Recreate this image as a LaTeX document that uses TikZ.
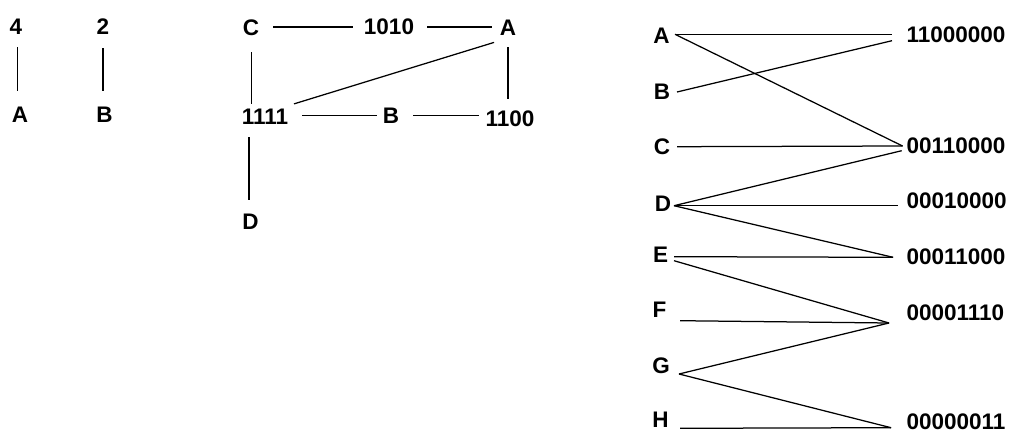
\documentclass[tikz,border=0pt]{standalone}
\usepackage{fontspec}
\setmainfont{Liberation Sans}
\begin{document}
\begin{tikzpicture}[x=1pt,y=-1pt,
  lbl/.style={inner sep=0pt,outer sep=0pt,font=\fontsize{22.5}{27}\selectfont\bfseries},
  rlbl/.style={lbl,anchor=west},
  conn/.style={draw=black,line width=1.25pt}]
\useasboundingbox (0,0) rectangle (1011,433);
% ---- left pair graphs
\node[lbl] (n4) at (16,26.5) {4};
\node[lbl] (nA) at (20,114.5) {A};
\node[lbl] (n2) at (103,26.5) {2};
\node[lbl] (nB) at (104.5,114.5) {B};
\draw[conn,shorten <=13pt,shorten >=16pt] ([xshift=1.5pt]n4.south) -- ([xshift=1.5pt]n4.south |- nA.north);
\draw[conn,shorten <=14pt,shorten >=16pt] (n2.south) -- (n2.south |- nB.north);
% ---- middle graph
\node[lbl] (gC) at (251,28) {C};
\node[lbl] (g1010) at (389,27) {1010};
\node[lbl] (gA) at (508,27.5) {A};
\node[lbl] (g1111) at (265,116.5) {1111};
\node[lbl] (gB) at (391,115.5) {B};
\node[lbl] (g1100) at (510,118.5) {1100};
\node[lbl] (gD) at (250.5,221.5) {D};
\draw[conn,shorten <=14pt,shorten >=11pt] (gC.east |- 0,27) -- (g1010.west);
\draw[conn,shorten <=13pt,shorten >=8pt] (g1010.east) -- (g1010.east -| gA.west);
\draw[conn,shorten <=16.5pt,shorten >=4.5pt] ([xshift=0.7pt]gC.south) -- ([xshift=0.7pt]gC.south |- g1111.north);
\draw[conn,shorten <=13pt,shorten >=14pt] ([xshift=-1.5pt]gD.north |- g1111.south) -- ([xshift=-1.5pt]gD.north);
\draw[conn,shorten <=3pt,shorten >=4pt] ([shift={(3,-4)}]g1111.north east) -- ([shift={(-2,6)}]gA.south west);
\draw[conn,shorten <=14pt,shorten >=6pt] (g1111.east |- gB.east) -- (gB.west);
\draw[conn,shorten <=14pt,shorten >=7pt] (gB.east) -- (gB.east -| g1100.west);
\draw[conn,shorten <=12pt,shorten >=11.5pt] (gA.south) -- (gA.south |- g1100.north);
% ---- right bipartite graph
\node[lbl] (rA) at (661.5,36) {A};
\node[lbl] (rB) at (662,91.5) {B};
\node[lbl] (rC) at (662,147) {C};
\node[lbl] (rD) at (663,203.5) {D};
\node[lbl] (rE) at (660.5,254.5) {E};
\node[lbl] (rF) at (659.5,310) {F};
\node[lbl] (rG) at (661,366) {G};
\node[lbl] (rH) at (660.5,420) {H};
\node[rlbl] (c1) at (906.5,34.5) {11000000};
\node[rlbl] (c2) at (906.5,145.5) {00110000};
\node[rlbl] (c3) at (906.5,200.5) {00010000};
\node[rlbl] (c4) at (906.5,257) {00011000};
\node[rlbl] (c5) at (906.5,313) {00001110};
\node[rlbl] (c6) at (906.5,422) {00000011};
% ports
\coordinate (pA) at (675,34.3);
\coordinate (pB) at (677,92);
\coordinate (pC) at (677,146.7);
\coordinate (pD) at (674,205.7);
\coordinate (pE1) at (674,256.7);
\coordinate (pE2) at (674,260.7);
\coordinate (pF) at (680,320.7);
\coordinate (pG) at (679,374);
\coordinate (pH) at (680,428.3);
\coordinate (q1a) at (892,34.3);
\coordinate (q1b) at (892,40.7);
\coordinate (q2) at (902.5,146);
\coordinate (q2d) at (901.7,150.7);
\coordinate (q3) at (898,205.7);
\coordinate (q4) at (893,257.3);
\coordinate (q5) at (889,323);
\coordinate (q6) at (891,427.7);
\draw[conn] (pA) -- (q1a);
\draw[conn] (pA) -- (q2);
\draw[conn] (pB) -- (q1b);
\draw[conn] (pC) -- (q2);
\draw[conn] (pD) -- (q2d);
\draw[conn] (pD) -- (q3);
\draw[conn] (pD) -- (q4);
\draw[conn] (pE1) -- (q4);
\draw[conn] (pE2) -- (q5);
\draw[conn] (pF) -- (q5);
\draw[conn] (pG) -- (q5);
\draw[conn] (pG) -- (q6);
\draw[conn] (pH) -- (q6);
\end{tikzpicture}
\end{document}
